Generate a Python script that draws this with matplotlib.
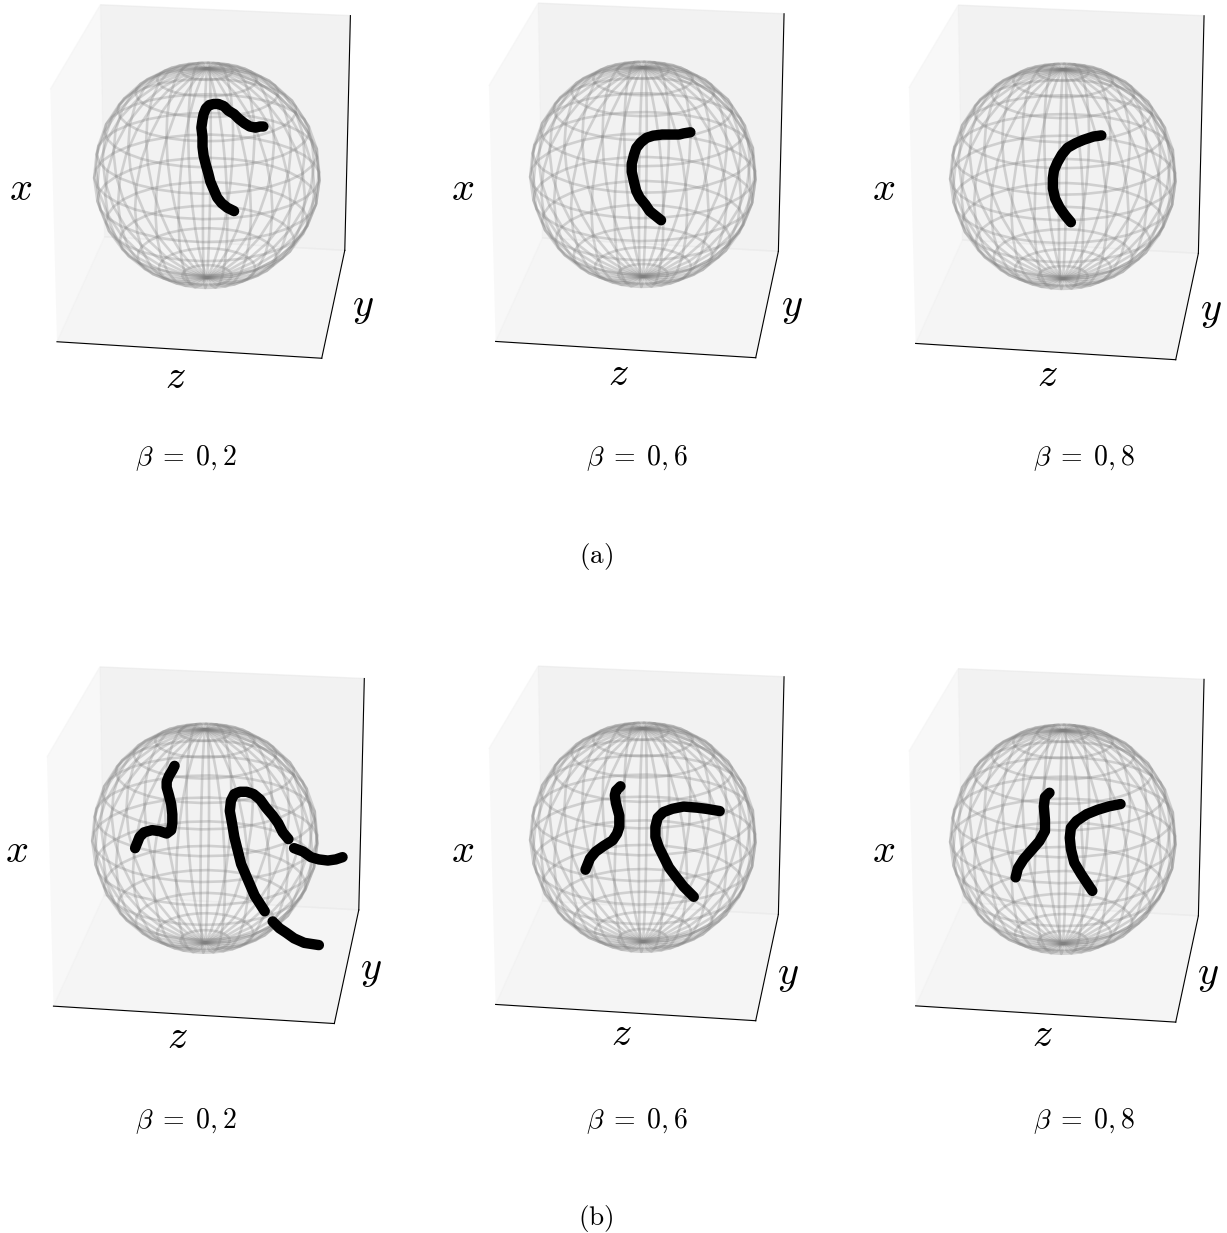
import numpy as np
import matplotlib
matplotlib.use('Agg')
import matplotlib.pyplot as plt
from mpl_toolkits.mplot3d import proj3d

plt.rcParams['mathtext.fontset'] = 'cm'

W, H = 1227, 1233

# curves, in sphere radii (across, up) from the sphere centre
a1_h = [0.50, 0.47, 0.43, 0.38, 0.33, 0.28, 0.24, 0.19, 0.15, 0.10, 0.06, 0.02, -0.01, -0.03,
        -0.04, -0.05, -0.04, -0.04, -0.03, -0.01, 0.01, 0.03, 0.06, 0.09, 0.13, 0.18, 0.24]
a1_v = [0.43, 0.43, 0.42, 0.43, 0.46, 0.50, 0.54, 0.57, 0.61, 0.63, 0.63, 0.62, 0.59, 0.54,
        0.49, 0.42, 0.34, 0.25, 0.17, 0.09, 0.02, -0.06, -0.13, -0.20, -0.25, -0.29, -0.32]

a2_h = [0.42, 0.36, 0.32, 0.26, 0.17, 0.09, 0.03, -0.02, -0.06, -0.08, -0.10, -0.10, -0.08,
        -0.06, -0.03, 0.02, 0.06, 0.11, 0.16]
a2_v = [0.37, 0.36, 0.35, 0.35, 0.35, 0.34, 0.32, 0.28, 0.23, 0.17, 0.09, 0.02, -0.07,
        -0.15, -0.21, -0.27, -0.33, -0.37, -0.41]

a3_h = [0.34, 0.27, 0.18, 0.11, 0.04, -0.01, -0.05, -0.08, -0.09, -0.09, -0.07, -0.03, 0.02, 0.07]
a3_v = [0.36, 0.35, 0.32, 0.29, 0.25, 0.19, 0.12, 0.05, -0.02, -0.11, -0.20, -0.28, -0.35, -0.41]

b1_left_h = [-0.27, -0.29, -0.32, -0.34, -0.34, -0.32, -0.30, -0.29, -0.29, -0.30, -0.34, -0.40,
             -0.47, -0.54, -0.58, -0.62]
b1_left_v = [0.64, 0.60, 0.55, 0.50, 0.45, 0.38, 0.30, 0.21, 0.13, 0.07, 0.04, 0.06,
             0.07, 0.05, 0.01, -0.09]
b1_tail_h = [1.22, 1.16, 1.09, 1.01, 0.94, 0.87, 0.79]
b1_tail_v = [-0.17, -0.19, -0.20, -0.19, -0.17, -0.12, -0.09]
b1_mid_h = [0.74, 0.69, 0.65, 0.60, 0.54, 0.49, 0.43, 0.37, 0.31, 0.26, 0.23, 0.22, 0.24, 0.26,
            0.29, 0.32, 0.38, 0.44, 0.53]
b1_mid_v = [-0.01, 0.05, 0.13, 0.20, 0.27, 0.34, 0.39, 0.41, 0.41, 0.39, 0.33, 0.24, 0.13, 0.01,
            -0.11, -0.23, -0.37, -0.51, -0.65]
b1_end_h = [0.60, 0.66, 0.72, 0.79, 0.88, 1.01]
b1_end_v = [-0.74, -0.80, -0.84, -0.89, -0.93, -0.95]

b2_left_h = [-0.20, -0.24, -0.25, -0.24, -0.21, -0.21, -0.23, -0.27, -0.35, -0.42, -0.47, -0.51]
b2_left_v = [0.45, 0.41, 0.37, 0.30, 0.19, 0.09, 0.03, -0.03, -0.08, -0.13, -0.19, -0.29]
b2_right_h = [0.68, 0.56, 0.48, 0.36, 0.26, 0.18, 0.13, 0.11, 0.11, 0.14, 0.18, 0.23, 0.29, 0.36, 0.45]
b2_right_v = [0.23, 0.25, 0.26, 0.27, 0.25, 0.22, 0.17, 0.09, 0.00, -0.09, -0.17, -0.27, -0.35, -0.44, -0.53]

b3_left_h = [-0.12, -0.16, -0.17, -0.16, -0.16, -0.21, -0.28, -0.35, -0.40, -0.42]
b3_left_v = [0.41, 0.37, 0.29, 0.17, 0.07, -0.02, -0.10, -0.18, -0.26, -0.34]
b3_right_h = [0.51, 0.41, 0.31, 0.21, 0.12, 0.07, 0.06, 0.07, 0.10, 0.16, 0.26]
b3_right_v = [0.31, 0.29, 0.26, 0.22, 0.16, 0.10, 0.01, -0.09, -0.21, -0.31, -0.46]

panel_curves = [
    [(a1_h, a1_v)],
    [(a2_h, a2_v)],
    [(a3_h, a3_v)],
    [(b1_left_h, b1_left_v), (b1_tail_h, b1_tail_v), (b1_mid_h, b1_mid_v), (b1_end_h, b1_end_v)],
    [(b2_left_h, b2_left_v), (b2_right_h, b2_right_v)],
    [(b3_left_h, b3_left_v), (b3_right_h, b3_right_v)],
]

beta_labels = ['$\\beta\\;=\\;0,2$', '$\\beta\\;=\\;0,6$', '$\\beta\\;=\\;0,8$'] * 2

# layout, in pixels of the picture
centres = [(207, 175), (643, 174), (1063, 176), (205, 838), (643, 837), (1063, 839)]
xlims = [(-1.18, 1.18), (-1.16, 1.16), (-1.16, 1.16), (-1.18, 1.32), (-1.16, 1.16), (-1.16, 1.16)]
heights = [1.01, 1.04, 1.04, 0.94, 1.04, 1.035]
sphere_stretch = [1.0, 1.0, 1.0, 1.02, 1.02, 1.02]
x_pos = [(21, 189), (463, 189), (884, 189), (17, 851), (463, 851), (884, 851)]
y_pos = [(363, 306), (792, 306), (1211, 310), (371, 969), (788, 974), (1208, 974)]
z_pos = [(175, 377), (618, 374), (1047, 375), (177, 1037), (621, 1034), (1042, 1035)]
beta_pos = [(186, 458), (637, 458), (1084, 458), (186, 1121), (637, 1121), (1084, 1121)]

ELEV, AZIM = 22, -82
PX_PER_UNIT = 370
RADIUS = 1.025


def put_text(fig, pos, s, size):
    fig.text(pos[0] / W, 1 - pos[1] / H, s, fontsize=size, ha='center', va='center')


def sphere_panel(fig, centre, xlim, height, stretch, curves):
    half = (xlim[1] - xlim[0]) / 2
    size = PX_PER_UNIT * half
    ax = fig.add_axes([0, 0, size / W, size / H], projection='3d', computed_zorder=False)
    ax.view_init(elev=ELEV, azim=AZIM)
    ax.set_xlim(xlim)
    ax.set_ylim(-half, half)
    ax.set_zlim(-half * height, half * height)
    # zoom keeps the box width the same whatever the height
    ax.set_box_aspect((1, 1, height), zoom=np.sqrt((2 + height ** 2) / 3))
    ax.set_xticks([])
    ax.set_yticks([])
    ax.set_zticks([])
    ax.grid(False)

    u = np.linspace(0, 2 * np.pi, 31)
    v = np.linspace(0, np.pi, 15)
    sx = RADIUS * np.outer(np.cos(u), np.sin(v))
    sy = RADIUS * np.outer(np.sin(u), np.sin(v))
    sz = RADIUS * stretch * np.outer(np.ones_like(u), np.cos(v))
    ax.plot_wireframe(sx, sy, sz, color='gray', alpha=0.3, linewidth=1.9, zorder=2)

    az, el = np.radians(AZIM), np.radians(ELEV)
    right = np.array([-np.sin(az), np.cos(az), 0])
    up = np.array([-np.sin(el) * np.cos(az), -np.sin(el) * np.sin(az), np.cos(el)])
    for h, w in curves:
        pts = RADIUS * (np.outer(h, right) + np.outer(w, up))
        ax.plot(pts[:, 0], pts[:, 1], pts[:, 2], color='black', linewidth=7.5,
                solid_capstyle='round', solid_joinstyle='round', zorder=3)

    # slide the axes so the sphere centre lands where it is in the picture
    fig.canvas.draw()
    px, py, _ = proj3d.proj_transform(0, 0, 0, ax.get_proj())
    dx, dy = ax.transData.transform((px, py))
    box = ax.get_position()
    left = centre[0] / W - dx / fig.bbox.width + box.x0
    bottom = 1 - centre[1] / H - dy / fig.bbox.height + box.y0
    ax.set_position([left, bottom, size / W, size / H])
    return ax


fig = plt.figure(figsize=(W / 100, H / 100), dpi=100)

for i in range(6):
    sphere_panel(fig, centres[i], xlims[i], heights[i], sphere_stretch[i], panel_curves[i])
    put_text(fig, x_pos[i], '$x$', 29)
    put_text(fig, y_pos[i], '$y$', 29)
    put_text(fig, z_pos[i], '$z$', 29)
    put_text(fig, beta_pos[i], beta_labels[i], 20)

put_text(fig, (596, 556), '$\\mathrm{(a)}$', 19.5)
put_text(fig, (596, 1218), '$\\mathrm{(b)}$', 19.5)

fig.savefig('out.png', dpi=100)
